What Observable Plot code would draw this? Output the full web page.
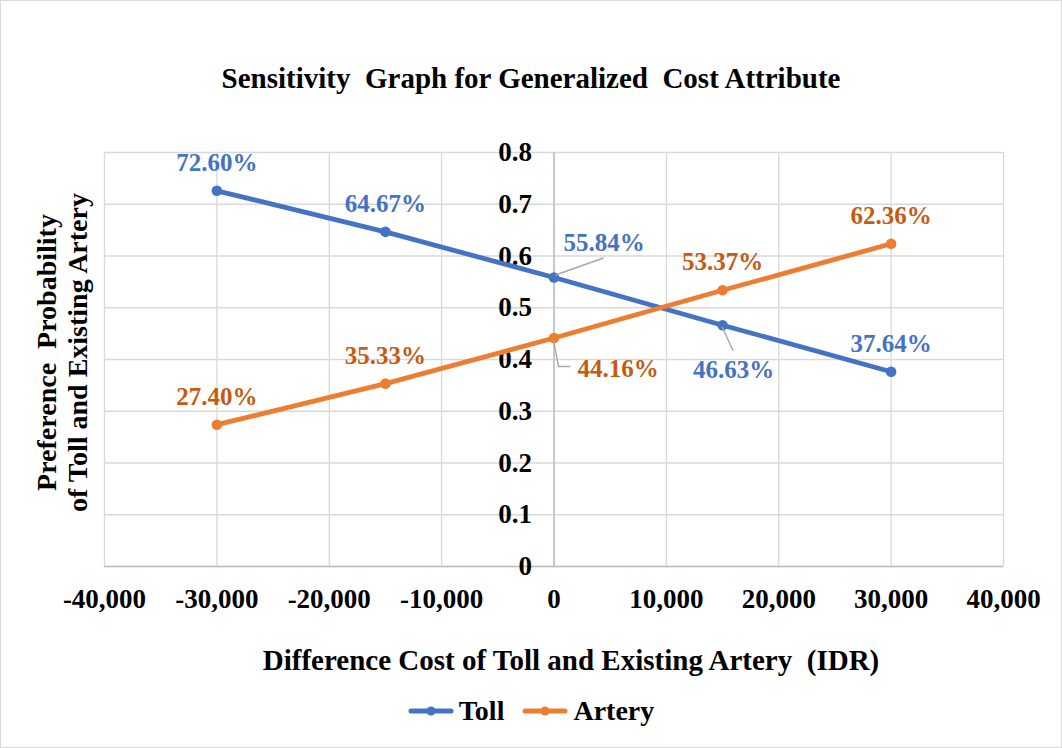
<!DOCTYPE html>
<html><head><meta charset="utf-8">
<script src="https://cdn.jsdelivr.net/npm/d3@7"></script>
<script src="https://cdn.jsdelivr.net/npm/@observablehq/plot@0.6"></script>
<style>
body{margin:0;background:#fff;}
#chart{position:relative;width:1062px;height:748px;outline:1px solid #d9d9d9;outline-offset:-1px;font-family:"Liberation Serif","Times New Roman",serif;font-weight:bold;color:#000;overflow:hidden;background:#fff}
.title{position:absolute;left:0;width:1062px;top:64px;text-align:center;font-size:29px;line-height:29px;white-space:pre}
.xtitle{position:absolute;left:80px;width:982px;top:646px;text-align:center;font-size:29px;line-height:29px;white-space:pre}
.legend{position:absolute;left:0;width:1062px;top:697px;display:flex;justify-content:center;align-items:center;font-size:28px;line-height:28px}
.legend .item{display:flex;align-items:center;margin:0 9px}
.legend svg{margin-right:5px}
#plot{position:absolute;left:0;top:130px}
</style></head>
<body>
<div id="chart">
  <div class="title">Sensitivity  Graph for Generalized  Cost Attribute</div>
  <div id="plot"></div>
  <div class="xtitle">Difference Cost of Toll and Existing Artery  (IDR)</div>
  <div class="legend" id="legend"></div>
</div>
<script>
const xValues = [-30000, -15000, 0, 15000, 30000];
const tollValues = [0.7260, 0.6467, 0.5584, 0.4663, 0.3764];
const arteryValues = [0.2740, 0.3533, 0.4416, 0.5337, 0.6236];
const seriesNames = ["Toll", "Artery"];
const xTicks = [-40000, -30000, -20000, -10000, 0, 10000, 20000, 30000, 40000];
const yTicks = [0, 0.1, 0.2, 0.3, 0.4, 0.5, 0.6, 0.7, 0.8];
const yTitle = "Preference  Probability\nof Toll and Existing Artery";

const lineColors = {Toll: "#4472C4", Artery: "#ED7D31"};
const labelColors = {Toll: "#4472C4", Artery: "#C55A11"};

const rows = [];
xValues.forEach((x, i) => rows.push({series: seriesNames[0], x, v: tollValues[i]}));
xValues.forEach((x, i) => rows.push({series: seriesNames[1], x, v: arteryValues[i]}));

const pct = d3.format(".2%");
const fmtX = d => d3.format(",")(d).replace("\u2212", "-");

const isTollZero = d => d.series === "Toll" && d.x === 0;
const isTollMid = d => d.series === "Toll" && d.x === 15000;
const isArteryZero = d => d.series === "Artery" && d.x === 0;
const isSpecial = d => isTollZero(d) || isTollMid(d) || isArteryZero(d);

function leaders(index, scales) {
  const g = d3.create("svg:g").attr("fill", "none").attr("stroke", "#a6a6a6").attr("stroke-width", 1.4);
  rows.forEach(d => {
    const px = scales.x(d.x), py = scales.y(d.v);
    let pts = null;
    if (isTollZero(d)) pts = [[px + 2, py - 2], [px + 50, py - 19]];
    else if (isTollMid(d)) pts = [[px, py + 2], [px + 11, py + 26]];
    else if (isArteryZero(d)) pts = [[px, py + 3], [px + 5, py + 29], [px + 17, py + 29]];
    if (pts) g.append("path").attr("d", d3.line()(pts));
  });
  return g.node();
}

const labelText = (filter, dx, dy) => Plot.text(rows, {
  filter, x: "x", y: "v", text: d => pct(d.v), dx, dy,
  fill: d => labelColors[d.series], fontSize: 25
});

const chart = Plot.plot({
  width: 1062,
  height: 500,
  marginTop: 22,
  marginBottom: 64,
  marginLeft: 104,
  marginRight: 59,
  x: {domain: [-40000, 40000]},
  y: {domain: [0, 0.8], axis: null},
  color: {domain: seriesNames, range: seriesNames.map(s => lineColors[s])},
  style: {fontFamily: "'Liberation Serif','Times New Roman',serif", fontWeight: "bold", fontSize: "25px", background: "transparent", overflow: "visible"},
  marks: [
    Plot.ruleX(xTicks, {stroke: "#d9d9d9", strokeWidth: 1.3, strokeOpacity: 1}),
    Plot.ruleY(yTicks, {stroke: "#d9d9d9", strokeWidth: 1.3, strokeOpacity: 1}),
    Plot.ruleX([0], {stroke: "#bfbfbf", strokeWidth: 1.5, strokeOpacity: 1}),
    Plot.ruleY([0], {stroke: "#bfbfbf", strokeWidth: 1.5, strokeOpacity: 1}),
    Plot.axisX(xTicks, {tickSize: 0, tickPadding: 22, tickFormat: fmtX, label: null, fill: "#000", fontSize: 27}),
    Plot.text(yTicks, {x: d => 0, y: d => d, text: d => String(d), textAnchor: "end", dx: -22, fill: "#000", fontSize: 27}),
    Plot.text([yTitle], {frameAnchor: "left", textAnchor: "middle", rotate: -90, dx: -43, dy: -7, lineHeight: 1.1, fontSize: 28, fill: "#000"}),
    Plot.line(rows, {x: "x", y: "v", z: "series", stroke: "series", strokeWidth: 4.8, strokeLinecap: "round"}),
    Plot.dot(rows, {x: "x", y: "v", fill: "series", r: 5.3, stroke: null}),
    leaders,
    labelText(d => !isSpecial(d), 0, -28),
    labelText(isTollZero, 50, -35),
    labelText(isTollMid, 11, 45),
    labelText(isArteryZero, 64, 31)
  ]
});
document.getElementById("plot").appendChild(chart);

const legend = document.getElementById("legend");
seriesNames.forEach(s => {
  const item = document.createElement("div");
  item.className = "item";
  const c = lineColors[s];
  item.innerHTML = `<svg width="46" height="14"><line x1="3" y1="7" x2="43" y2="7" stroke="${c}" stroke-width="5" stroke-linecap="round"/><circle cx="23" cy="7" r="4.5" fill="${c}"/></svg><span>${s}</span>`;
  legend.appendChild(item);
});
</script>
</body></html>
